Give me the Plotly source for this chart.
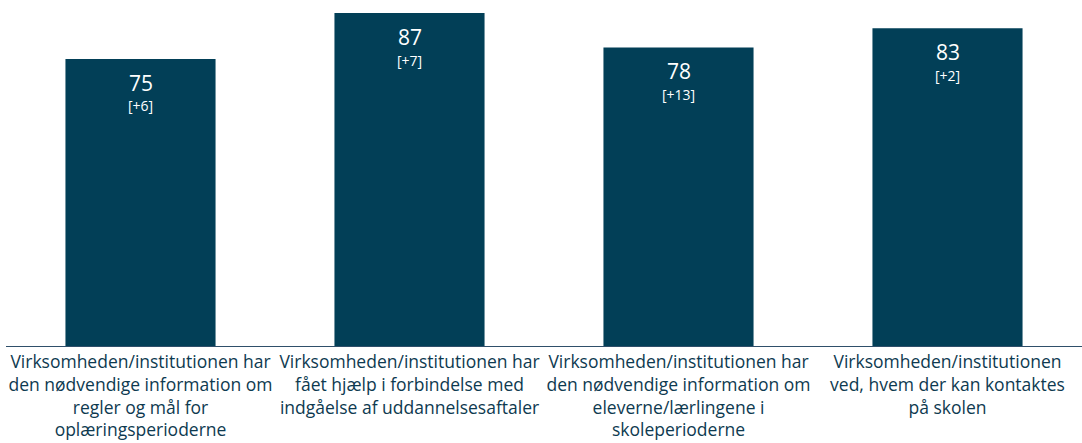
import plotly.graph_objects as go

categories = [
    "Virksomheden/institutionen har<br>den nødvendige information om<br>regler og mål for<br>oplæringsperioderne",
    "Virksomheden/institutionen har<br>fået hjælp i forbindelse med<br>indgåelse af uddannelsesaftaler",
    "Virksomheden/institutionen har<br>den nødvendige information om<br>eleverne/lærlingene i<br>skoleperioderne",
    "Virksomheden/institutionen<br>ved, hvem der kan kontaktes<br>på skolen",
]
values = [75, 87, 78, 83]
changes = ["[+6]", "[+7]", "[+13]", "[+2]"]

bar_color = "#023F57"
text_color = "#0E3A50"

fig = go.Figure(go.Bar(x=categories, y=values, marker_color=bar_color,
                       marker_line_width=0, hoverinfo="skip"))

ann = []
for c, v, ch in zip(categories, values, changes):
    ann.append(dict(x=c, y=v, text=str(v), showarrow=False, yanchor="middle",
                    yshift=-24, font=dict(family="Open Sans", size=21, color="white")))
    ann.append(dict(x=c, y=v, text=ch, showarrow=False, yanchor="middle",
                    yshift=-47, font=dict(family="Open Sans", size=14, color="white")))

fig.update_layout(
    width=1082, height=443,
    margin=dict(l=6, r=0, t=0, b=97, autoexpand=False),
    paper_bgcolor="white", plot_bgcolor="white",
    bargap=0.442,
    showlegend=False,
    annotations=ann,
    xaxis=dict(showline=True, linecolor="#2F4F6A", linewidth=1, automargin=False,
               tickfont=dict(family="Open Sans", size=17.5, color=text_color),
               ticks="", showgrid=False),
    yaxis=dict(range=[0, 90.4], visible=False, showgrid=False, zeroline=False),
)

fig.write_html("out.html", config={"displayModeBar": False},
               post_script="document.body.style.margin='0';document.body.style.overflow='hidden';")
